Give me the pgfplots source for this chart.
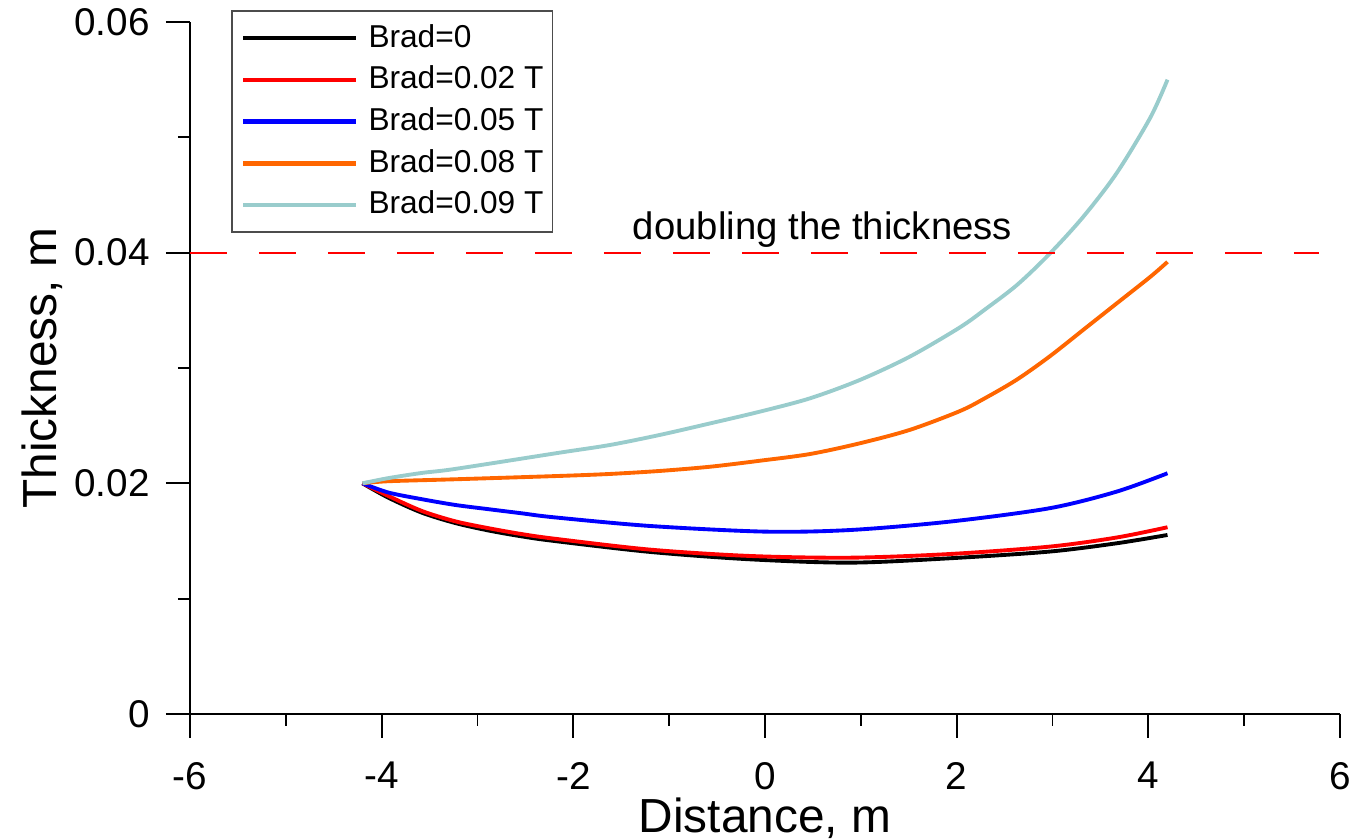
\documentclass[border=0pt]{standalone}
\usepackage{fontspec}
\setmainfont{Liberation Sans}
\usepackage{pgfplots}
\pgfplotsset{compat=1.18}
\definecolor{bradred}{RGB}{255,0,0}
\definecolor{bradblue}{RGB}{0,0,255}
\definecolor{bradorange}{RGB}{255,102,0}
\definecolor{bradcyan}{RGB}{153,204,204}

\begin{document}
\begin{tikzpicture}
\begin{axis}[
  scale only axis,width=11.5cm,height=6.92cm,
  xmin=-6,xmax=6,ymin=0,ymax=0.06,
  axis x line=bottom,axis y line=left,
  axis line style={-,line width=0.8pt},
  xtick={-6,-4,...,6},minor xtick={-5,-3,...,5},
  ytick={0,0.02,0.04,0.06},minor ytick={0.01,0.03,0.05},
  tick align=outside,
  major tick length=0.24cm,minor tick length=0.12cm,
  every tick/.style={black,line width=0.5pt},
  scaled y ticks=false,
  /pgf/number format/assume math mode=true,
  yticklabel={\pgfmathprintnumber[fixed,precision=2]{\tick}},
  tick label style={font=\fontsize{11}{13}\selectfont},
  xticklabel style={yshift=-0.12cm},
  yticklabel style={xshift=-0.04cm},
  xlabel={Distance, m},ylabel={Thickness, m},
  label style={font=\fontsize{13.6}{15}\selectfont},
  xlabel style={at={(0.5,0)},anchor=center,yshift=-1.04cm},
  ylabel style={at={(0,0.5)},anchor=center,yshift=1.48cm},
  legend style={at={(0.0357,1.0173)},anchor=north west,draw=black!70,line width=0.5pt,
    font=\fontsize{9}{10}\selectfont,inner xsep=0.09cm,inner ysep=0.113cm,
    row sep=0.097cm,column sep=0.1cm,
    nodes={inner sep=0pt,text height=0.25cm,text depth=0.07cm}},
  legend cell align=left,
  legend image code/.code={\draw[#1,line width=1.3pt] (0cm,0cm) -- (1.13cm,0cm);},
  clip=false,
]
  \addplot[black,line width=1.1pt,smooth] coordinates {(-4.2,0.0200) (-3.93,0.01875) (-3.58,0.01745) (-3.23,0.01655) (-2.88,0.0159) (-2.54,0.0154) (-2.2,0.0150) (-1.2,0.01405) (-0.16,0.01341) (0.89,0.01312) (1.93,0.0135) (2.97,0.01408) (3.67,0.0148) (4.2,0.01552)};
  \addplot[bradred,line width=1.1pt,smooth] coordinates {(-4.2,0.0200) (-3.93,0.0189) (-3.58,0.0176) (-3.23,0.0167) (-2.88,0.0161) (-2.54,0.0156) (-2.2,0.0152) (-1.2,0.01425) (-0.16,0.0137) (0.89,0.01355) (1.93,0.01387) (2.97,0.01451) (3.67,0.0153) (4.2,0.01619)};
  \addplot[bradblue,line width=1.1pt,smooth] coordinates {(-4.2,0.0200) (-3.93,0.0192) (-3.58,0.01862) (-3.23,0.01812) (-2.88,0.01775) (-2.54,0.0174) (-2.2,0.01705) (-1.2,0.0163) (0.0,0.01581) (0.89,0.01595) (1.93,0.01668) (2.97,0.01784) (3.67,0.01928) (4.2,0.02087)};
  \addplot[bradorange,line width=1.1pt,smooth] coordinates {(-4.2,0.0200) (-3.93,0.02018) (-3.23,0.02035) (-2.14,0.02064) (-1.62,0.02081) (-1.10,0.02107) (-0.57,0.02144) (-0.05,0.02196) (0.47,0.02254) (0.99,0.02347) (1.51,0.02463) (2.03,0.02625) (2.3,0.0274) (2.63,0.0290) (2.97,0.0310) (3.32,0.0333) (3.67,0.0356) (4.02,0.0379) (4.2,0.0392)};
  \addplot[bradcyan,line width=1.1pt,smooth] coordinates {(-4.2,0.0200) (-3.93,0.02045) (-3.58,0.0209) (-3.23,0.02125) (-2.14,0.02266) (-1.62,0.02332) (-1.10,0.02419) (-0.57,0.0252) (-0.05,0.02622) (0.47,0.02737) (0.99,0.02896) (1.51,0.03098) (2.03,0.0335) (2.3,0.0351) (2.63,0.0372) (2.97,0.0399) (3.32,0.0431) (3.67,0.0469) (4.02,0.0517) (4.2,0.0550)};
  \legend{Brad=0,Brad=0.02 T,Brad=0.05 T,Brad=0.08 T,Brad=0.09 T}
  \addplot[bradred,line width=0.6pt,dash pattern=on 0.37cm off 0.32cm,forget plot] coordinates {(-6,0.04) (5.78,0.04)};
  \node[anchor=base,font=\fontsize{10.9}{12}\selectfont] at (axis cs:0.6,0.0411) {doubling the thickness};
\end{axis}
\pgfresetboundingbox
\path[use as bounding box] ([xshift=-1.9cm,yshift=-1.26cm]current axis.south west) rectangle ([xshift=0.15cm,yshift=0.22cm]current axis.north east);
\end{tikzpicture}
\end{document}
